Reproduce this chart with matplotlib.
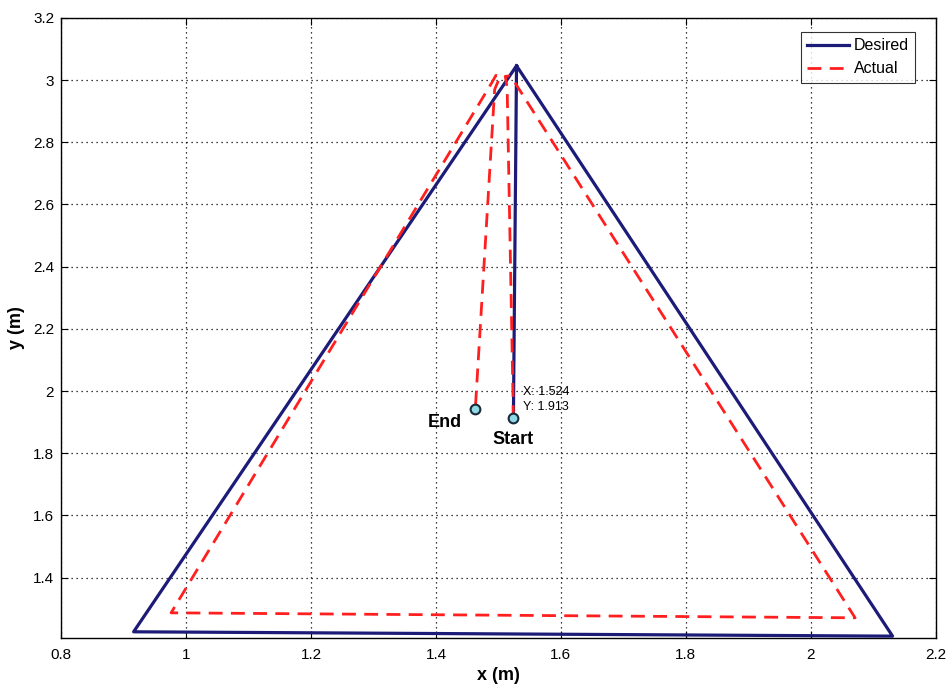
import matplotlib
matplotlib.use("Agg")
import matplotlib.pyplot as plt
import numpy as np
from matplotlib.ticker import FuncFormatter

# Desired trajectory (start -> apex -> bottom-right -> bottom-left -> apex)
desired_x = [1.524, 1.529, 2.131, 0.916, 1.529]
desired_y = [1.913, 3.046, 1.212, 1.226, 3.046]

# Actual trajectory
actual_x = [1.524, 1.514, 1.511, 1.517, 1.527, 2.071, 0.976, 1.489, 1.496, 1.503, 1.494, 1.463]
actual_y = [1.910, 2.975, 3.012, 3.013, 2.990, 1.271, 1.287, 2.990, 3.015, 3.012, 2.970, 1.942]

start_pt = (1.524, 1.913)
end_pt = (1.463, 1.942)

xticks = [0.8, 1.0, 1.2, 1.4, 1.6, 1.8, 2.0, 2.2]
yticks = [1.4, 1.6, 1.8, 2.0, 2.2, 2.4, 2.6, 2.8, 3.0, 3.2]

plt.rcParams['font.family'] = ['Liberation Sans', 'DejaVu Sans']

fig = plt.figure(figsize=(9.48, 6.87), dpi=100)
ax = fig.add_axes([0.0645, 0.0713, 0.9225, 0.9027])

ax.plot(desired_x, desired_y, color='#1c1c78', lw=2.3, label='Desired', zorder=3)
ax.plot(actual_x, actual_y, color='#ff1f1f', lw=2.0, ls=(0, (5, 3)), label='Actual', zorder=4)

for pt in (start_pt, end_pt):
    ax.plot(pt[0], pt[1], 'o', ms=7, mfc='#8fd8e6', mec='#1a2a3a', mew=1.5, zorder=5)

ax.text(end_pt[0] - 0.022, end_pt[1] - 0.015, 'End', fontsize=13, fontweight='bold',
        ha='right', va='top')
ax.text(start_pt[0] + 0.0, start_pt[1] - 0.04, 'Start', fontsize=13, fontweight='bold',
        ha='center', va='top')
ax.text(start_pt[0] + 0.015, start_pt[1] + 0.017, 'X: 1.524\nY: 1.913', fontsize=9,
        ha='left', va='bottom', linespacing=1.35)

ax.set_xlim(0.8, 2.2)
ax.set_ylim(1.206, 3.2)
ax.set_xticks(xticks)
ax.set_yticks(yticks)
fmt = FuncFormatter(lambda v, p: ('%g' % round(v, 3)))
ax.xaxis.set_major_formatter(fmt)
ax.yaxis.set_major_formatter(fmt)
ax.tick_params(direction='in', top=True, right=True, labelsize=11, length=5)
ax.tick_params(axis='x', pad=7)
ax.tick_params(axis='y', pad=5)
ax.grid(True, color='black', ls=(0, (1, 3)), lw=0.9)
for s in ax.spines.values():
    s.set_linewidth(1.0)

ax.set_xlabel('x (m)', fontsize=13, fontweight='bold', labelpad=4)
ax.set_ylabel('y (m)', fontsize=13, fontweight='bold', labelpad=6)

leg = ax.legend(loc='upper right', fontsize=11.5, frameon=True, fancybox=False,
                edgecolor='black', handlelength=2.6, borderpad=0.4, handletextpad=0.3,
                bbox_to_anchor=(0.9855, 0.99))
leg.get_frame().set_linewidth(0.8)

fig.savefig('out.png', dpi=100)
